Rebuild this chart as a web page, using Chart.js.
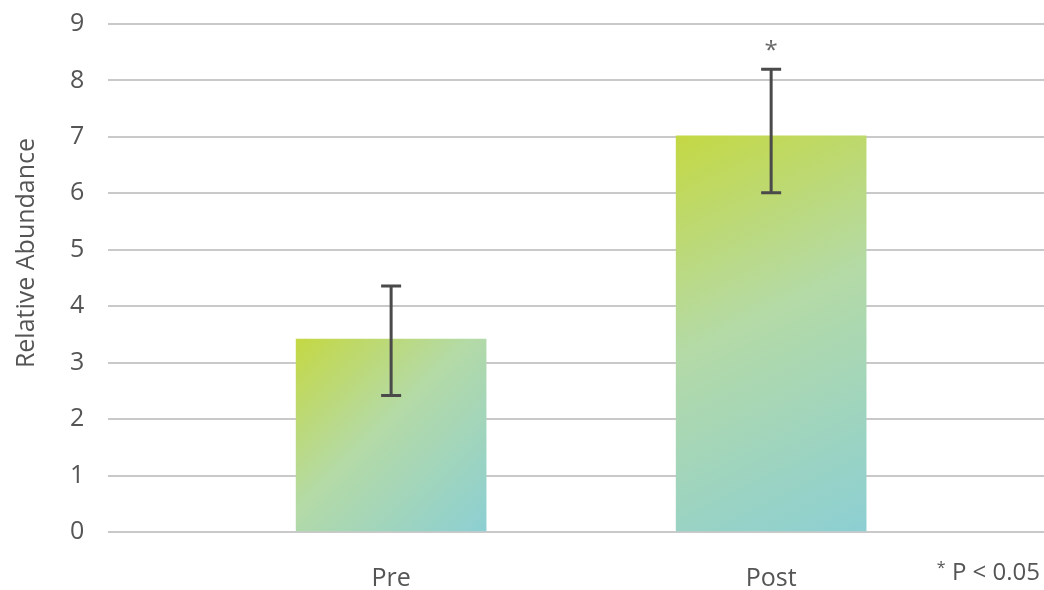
<!DOCTYPE html>
<html>
<head>
<meta charset="utf-8">
<script src="https://cdn.jsdelivr.net/npm/chart.js@4"></script>
<style>
  html, body { margin: 0; padding: 0; background: #fff; }
  #wrap { position: relative; width: 1044px; height: 590px; }
  #note {
    position: absolute; right: 4px; top: 554px;
    font-family: "Open Sans", sans-serif; font-size: 24px; color: #555;
  }
  #note sup { font-size: 16px; position: relative; top: 2px; }
</style>
</head>
<body>
<div id="wrap">
  <canvas id="chart" width="1044" height="590"></canvas>
  <div id="note"><sup>*</sup> P &lt; 0.05</div>
</div>
<script>
// data
const categories = ["Pre", "Post"];
const values = [3.42, 7.02];
const errLow = [2.42, 6.01];
const errHigh = [4.36, 8.2];
const marks = ["", "*"];
const yTicks = [0, 1, 2, 3, 4, 5, 6, 7, 8, 9];
const yTitle = "Relative Abundance";

const FONT = "'Open Sans', sans-serif";
const BAR_W = 190;

// bar gradient, top-left -> bottom-right of each bar
function barFill(ctx) {
  const chart = ctx.chart;
  if (!chart.chartArea || ctx.dataIndex === undefined) return "#b3dab0";
  const sx = chart.scales.x, sy = chart.scales.y;
  const cx = sx.getPixelForValue(ctx.dataIndex);
  const top = sy.getPixelForValue(values[ctx.dataIndex]);
  const bottom = sy.getPixelForValue(0);
  const g = chart.ctx.createLinearGradient(cx - BAR_W / 2, top, cx + BAR_W / 2, bottom);
  g.addColorStop(0, "#c4d843");
  g.addColorStop(0.45, "#b4daa6");
  g.addColorStop(1, "#8ccfd3");
  return g;
}

// error bars + significance marks + rotated y title
const extras = {
  id: "extras",
  afterDatasetsDraw(chart) {
    const c = chart.ctx, sx = chart.scales.x, sy = chart.scales.y;
    c.save();
    c.strokeStyle = "#4a4a4a";
    c.lineWidth = 3;
    categories.forEach((cat, i) => {
      const x = sx.getPixelForValue(i);
      const y1 = sy.getPixelForValue(errHigh[i]);
      const y2 = sy.getPixelForValue(errLow[i]);
      c.beginPath();
      c.moveTo(x, y1); c.lineTo(x, y2);
      c.moveTo(x - 10, y1); c.lineTo(x + 10, y1);
      c.moveTo(x - 10, y2); c.lineTo(x + 10, y2);
      c.stroke();
      if (marks[i]) {
        c.fillStyle = "#666";
        c.font = "24px " + FONT;
        c.textAlign = "center";
        c.textBaseline = "middle";
        c.fillText(marks[i], x, y1 - 18);
      }
    });
    c.translate(27, 253);
    c.rotate(-Math.PI / 2);
    c.fillStyle = "#555";
    c.font = "25px " + FONT;
    c.textAlign = "center";
    c.textBaseline = "middle";
    c.fillText(yTitle, 0, 0);
    c.restore();
  }
};

new Chart(document.getElementById("chart"), {
  type: "bar",
  data: {
    datasets: [{
      data: values.map((v, i) => ({ x: i, y: v })),
      backgroundColor: barFill,
      borderWidth: 0,
      barThickness: BAR_W
    }]
  },
  options: {
    responsive: false,
    animation: false,
    layout: { padding: { top: 0, right: 0, left: 70, bottom: 0 } },
    plugins: { legend: { display: false }, tooltip: { enabled: false } },
    scales: {
      x: {
        type: "linear",
        offset: false,
        min: -0.745,
        max: 1.718,
        grid: { display: false },
        border: { display: false },
        afterBuildTicks: axis => { axis.ticks = categories.map((c, i) => ({ value: i })); },
        afterFit: axis => { axis.height = 58; },
        ticks: {
          autoSkip: false,
          maxRotation: 0,
          padding: 24,
          color: "#555",
          font: { family: FONT, size: 25 },
          callback: v => categories[v]
        }
      },
      y: {
        min: 0,
        max: 9,
        afterBuildTicks: axis => { axis.ticks = yTicks.map(v => ({ value: v })); },
        afterFit: axis => { axis.width = 38; },
        grid: { color: "#c9c9c9", lineWidth: 2, drawTicks: false },
        border: { display: false },
        ticks: {
          padding: 9,
          crossAlign: "far",
          color: "#555",
          font: { family: FONT, size: 25 }
        }
      }
    }
  },
  plugins: [extras]
});
</script>
</body>
</html>
